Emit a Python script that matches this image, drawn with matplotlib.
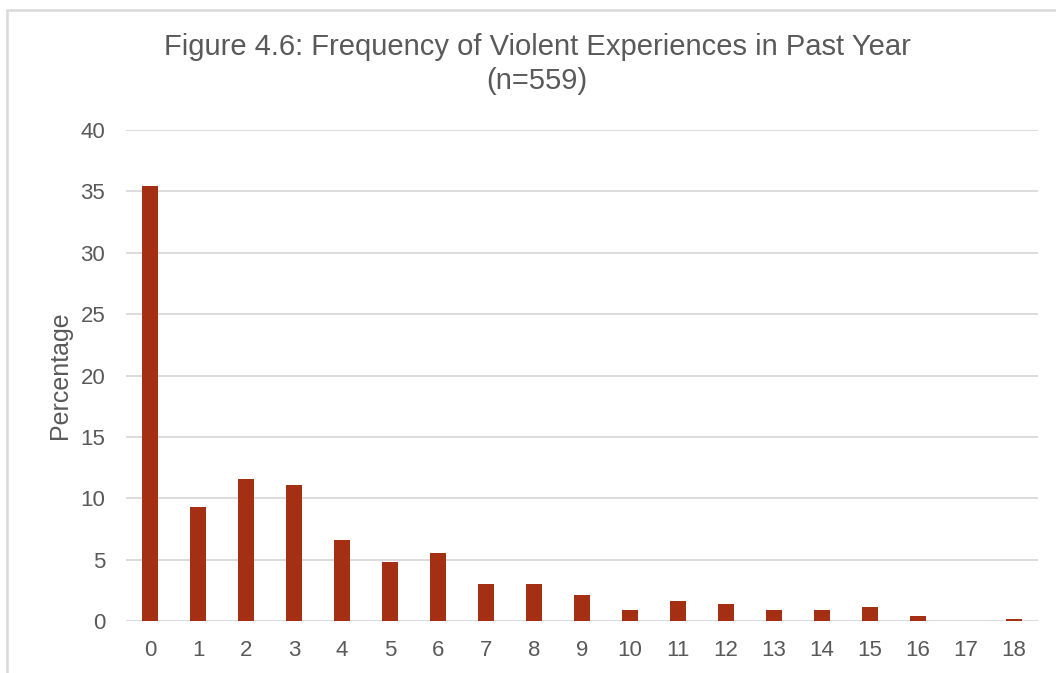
import matplotlib.pyplot as plt
from matplotlib.patches import Rectangle

plt.rcParams['font.family'] = ['Liberation Sans', 'DejaVu Sans']

categories = [str(i) for i in range(19)]
percentages = [35.4, 9.3, 11.6, 11.1, 6.6, 4.8, 5.5, 3.0, 3.0, 2.1,
               0.9, 1.6, 1.4, 0.9, 0.9, 1.1, 0.4, 0.0, 0.2]
yticks = [0, 5, 10, 15, 20, 25, 30, 35, 40]

fig = plt.figure(figsize=(10.56, 6.73), dpi=100)
ax = fig.add_axes([126 / 1056, 52 / 673, 912 / 1056, 491 / 673])

x = list(range(len(categories)))
ax.bar(x, percentages, width=0.32, color='#a52f12', zorder=3)

ax.set_xlim(-0.5, len(categories) - 0.5)
ax.set_ylim(0, 40)
ax.set_xticks(x)
ax.set_xticklabels(categories)
ax.set_yticks(yticks)
ax.tick_params(axis='both', length=0, labelsize=16, colors='#595959')
ax.tick_params(axis='x', pad=14)
ax.tick_params(axis='y', pad=15)
ax.grid(axis='y', color='#d9d9d9', linewidth=1.3, zorder=0)
for s in ax.spines.values():
    s.set_visible(False)
ax.axhline(0, color='#d9d9d9', linewidth=1.3, zorder=2)

ax.set_ylabel('Percentage', fontsize=18, color='#595959', labelpad=6)

fig.text(537 / 1056, 1 - 47 / 673, 'Figure 4.6: Frequency of Violent Experiences in Past Year',
         ha='center', va='center', fontsize=21, color='#595959')
fig.text(537 / 1056, 1 - 81 / 673, '(n=559)',
         ha='center', va='center', fontsize=21, color='#595959')

# chart area border
fig.patches.append(Rectangle((7 / 1056, -0.1), 1.2, 1 - 10 / 673 + 0.1,
                             transform=fig.transFigure, fill=False,
                             edgecolor='#d9d9d9', linewidth=1.8))

fig.savefig('out.png', dpi=100)
